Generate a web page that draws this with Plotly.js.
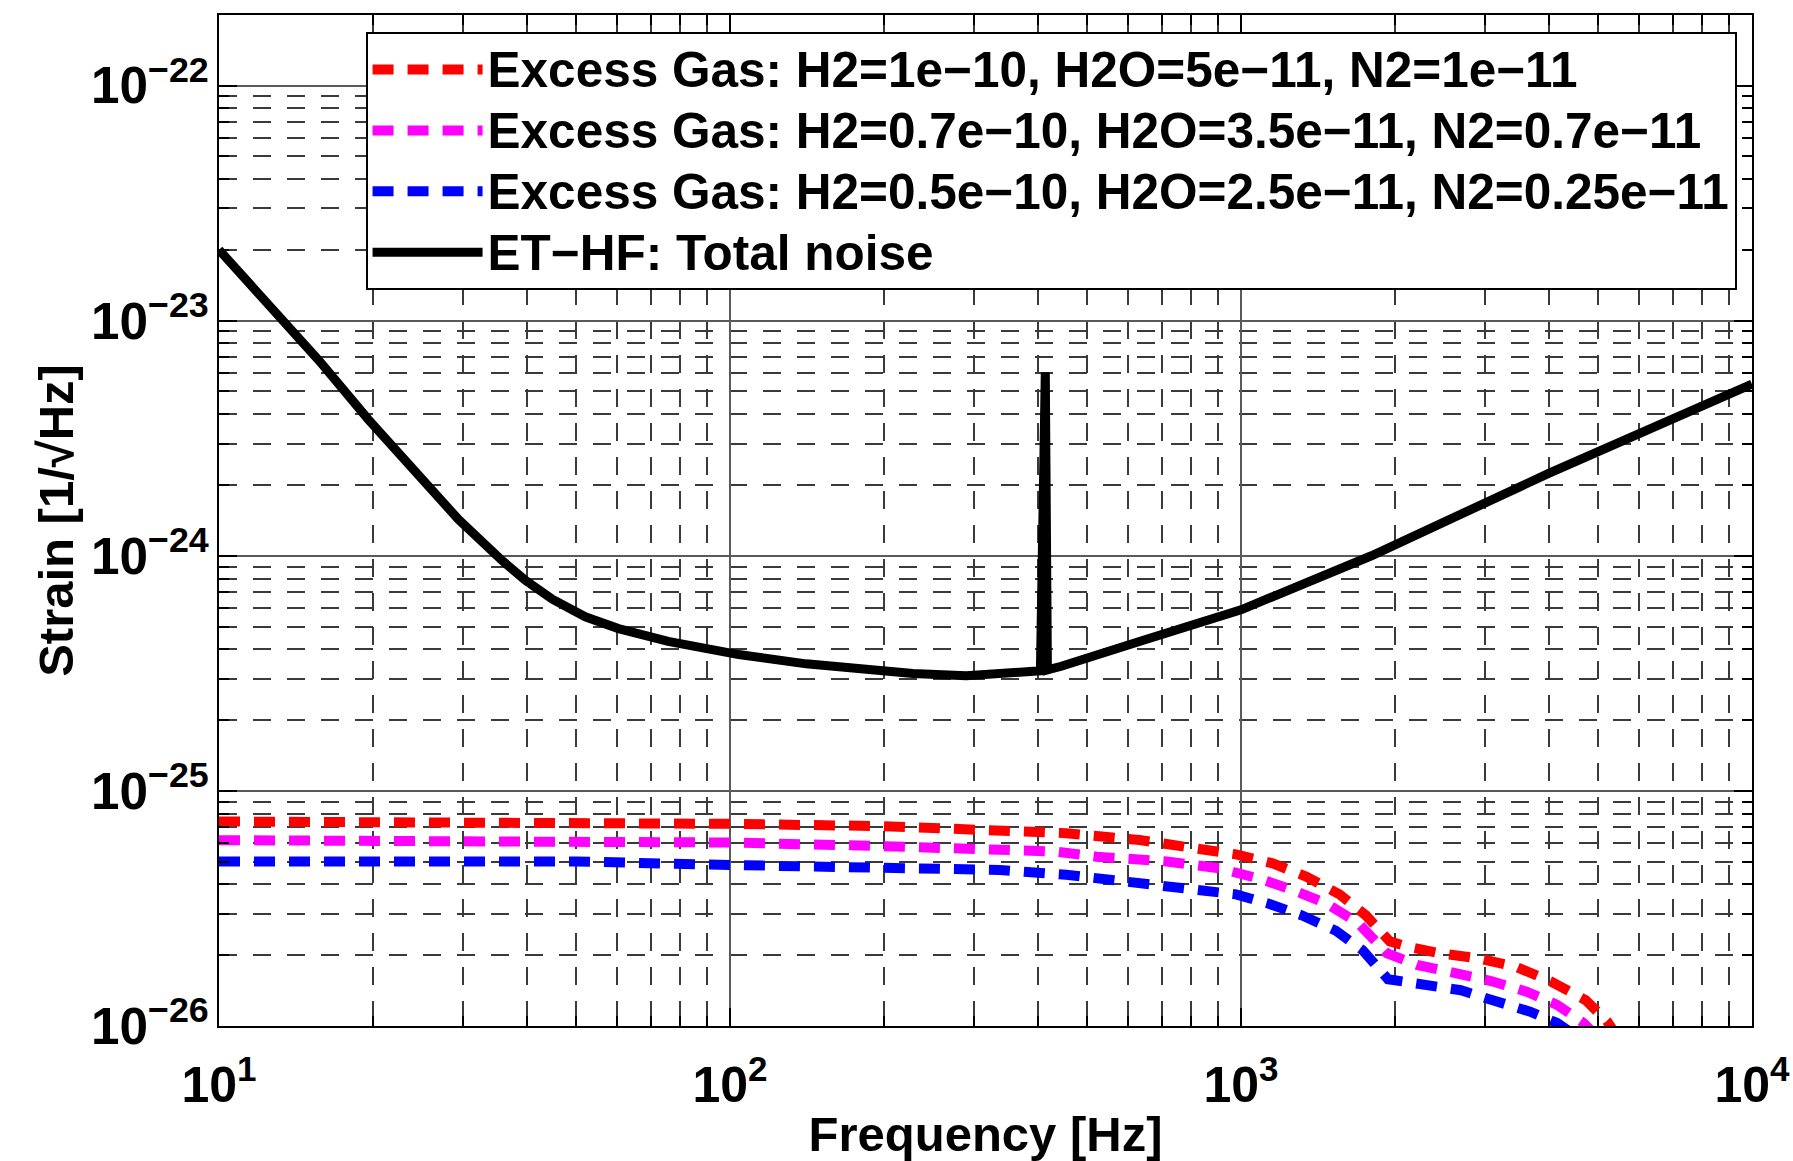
<!DOCTYPE html>
<html>
<head>
<meta charset="utf-8">
<script src="https://cdn.plot.ly/plotly-3.0.1.min.js"></script>
<style>html,body{margin:0;padding:0;background:#fff;}#chart{width:1793px;height:1161px;}</style>
</head>
<body>
<div id="chart"></div>
<script>
// ---- data ----
const freqTotal = [10, 12.5, 15.7, 19.6, 24.6, 29.4, 35.8, 39.8, 44.9, 52.1, 60.5, 75.7, 104, 141, 228, 290, 405, 410, 414, 418, 445, 644, 829, 1000, 1800, 4000, 10000];
const strainTotal = [2.00e-23, 1.16e-23, 6.76e-24, 3.80e-24, 2.16e-24, 1.43e-24, 9.55e-25, 7.85e-25, 6.53e-25, 5.50e-25, 4.90e-25, 4.32e-25, 3.80e-25, 3.47e-25, 3.16e-25, 3.09e-25, 3.24e-25, 6.03e-24, 6.03e-24, 3.27e-25, 3.39e-25, 4.37e-25, 5.13e-25, 5.89e-25, 1.00e-24, 2.24e-24, 5.37e-24];

const freqGas1 = [10, 50, 100, 200, 337, 455, 633, 805, 978, 1153, 1341, 1559, 1757, 1955, 2110, 2445, 2903, 3443, 4033, 4723, 5200, 5400];
const strainGas1 = [7.41e-26, 7.41e-26, 7.24e-26, 7.08e-26, 6.82e-26, 6.61e-26, 6.18e-26, 5.79e-26, 5.37e-26, 4.92e-26, 4.32e-26, 3.63e-26, 2.95e-26, 2.29e-26, 2.18e-26, 2.04e-26, 1.94e-26, 1.79e-26, 1.55e-26, 1.29e-26, 1.05e-26, 9.3e-27];

const freqGas2 = [10, 50, 100, 200, 337, 434, 521, 716, 908, 1092, 1263, 1474, 1693, 1930, 2211, 2650, 3098, 3622, 4156, 4683, 4900];
const strainGas2 = [6.17e-26, 6.17e-26, 6.03e-26, 5.82e-26, 5.61e-26, 5.52e-26, 5.25e-26, 5.01e-26, 4.68e-26, 4.22e-26, 3.79e-26, 3.31e-26, 2.75e-26, 2.04e-26, 1.82e-26, 1.67e-26, 1.55e-26, 1.40e-26, 1.23e-26, 1.03e-26, 9.3e-27];

const freqGas3 = [10, 50, 100, 200, 337, 455, 650, 815, 978, 1134, 1318, 1534, 1730, 1940, 2294, 2693, 3098, 3680, 4156, 4450];
const strainGas3 = [5.01e-26, 5.01e-26, 4.84e-26, 4.68e-26, 4.61e-26, 4.40e-26, 4.05e-26, 3.79e-26, 3.63e-26, 3.31e-26, 2.95e-26, 2.54e-26, 2.10e-26, 1.58e-26, 1.48e-26, 1.42e-26, 1.29e-26, 1.15e-26, 1.03e-26, 9.3e-27];

const seriesNames = [
  'Excess Gas: H2=1e\u221210, H2O=5e\u221211, N2=1e\u221211',
  'Excess Gas: H2=0.7e\u221210, H2O=3.5e\u221211, N2=0.7e\u221211',
  'Excess Gas: H2=0.5e\u221210, H2O=2.5e\u221211, N2=0.25e\u221211',
  'ET\u2212HF: Total noise'
];
const seriesColors = ['#ff0000', '#ff00ff', '#0000ff', '#000000'];

const xTickVals = [10, 100, 1000, 10000];
const xTickText = ['10<sup>1</sup>', '10<sup>2</sup>', '10<sup>3</sup>', '10<sup>4</sup>'];

const xTitle = 'Frequency [Hz]';
const yTitle = 'Strain [1/\u221AHz]';

// ---- traces ----
const gasDash = '21px,14px';
const legendName = (s) => '<span style="font-size:49.5px">' + s + '</span>';
const traces = [
  {x: freqGas1, y: strainGas1, name: legendName(seriesNames[0]), mode: 'lines', line: {color: seriesColors[0], width: 10, dash: gasDash}},
  {x: freqGas2, y: strainGas2, name: legendName(seriesNames[1]), mode: 'lines', line: {color: seriesColors[1], width: 10, dash: gasDash}},
  {x: freqGas3, y: strainGas3, name: legendName(seriesNames[2]), mode: 'lines', line: {color: seriesColors[2], width: 10, dash: gasDash}},
  {x: freqTotal, y: strainTotal, name: legendName(seriesNames[3]), mode: 'lines', line: {color: seriesColors[3], width: 9}}
];

const baseFont = {family: 'Liberation Sans, Arial, sans-serif', color: '#000', weight: 'bold'};

const axisCommon = {
  type: 'log',
  showline: true,
  linecolor: '#000',
  linewidth: 2,
  mirror: 'allticks',
  ticks: 'inside',
  ticklen: 18,
  tickwidth: 2,
  tickcolor: '#000',
  showgrid: true,
  gridcolor: '#5a5a5a',
  gridwidth: 2,
  zeroline: false,
  ticklabeloverflow: 'allow',
  tickfont: Object.assign({}, baseFont, {size: 41}),
  minor: {
    dtick: 'D1',
    ticks: 'inside',
    ticklen: 10,
    tickwidth: 2,
    tickcolor: '#000',
    showgrid: true,
    gridcolor: '#3a3a3a',
    gridwidth: 2,
    griddash: '18px,16px'
  }
};

const layout = {
  width: 1793,
  height: 1161,
  paper_bgcolor: '#fff',
  plot_bgcolor: '#fff',
  font: baseFont,
  margin: {l: 219, r: 41, t: 15, b: 135},
  showlegend: true,
  legend: {
    x: 0.0956, y: 0.983, xanchor: 'left', yanchor: 'top',
    bgcolor: '#fff', bordercolor: '#000', borderwidth: 2,
    font: Object.assign({}, baseFont, {size: 44.5}),
    itemwidth: 110,
    tracegroupgap: 0
  },
  xaxis: Object.assign({}, axisCommon, {
    range: [1, 4],
    tickmode: 'array',
    tickvals: xTickVals,
    ticktext: xTickText,
    tickfont: Object.assign({}, baseFont, {size: 50}),
    ticklabelstandoff: 14,
    title: {text: xTitle, font: Object.assign({}, baseFont, {size: 49}), standoff: 10}
  }),
  yaxis: Object.assign({}, axisCommon, {
    range: [-26, -21.7],
    dtick: 1,
    exponentformat: 'power',
    title: {text: yTitle, font: Object.assign({}, baseFont, {size: 49}), standoff: 2}
  })
};

Plotly.newPlot('chart', traces, layout, {displayModeBar: false, staticPlot: true});
</script>
</body>
</html>
